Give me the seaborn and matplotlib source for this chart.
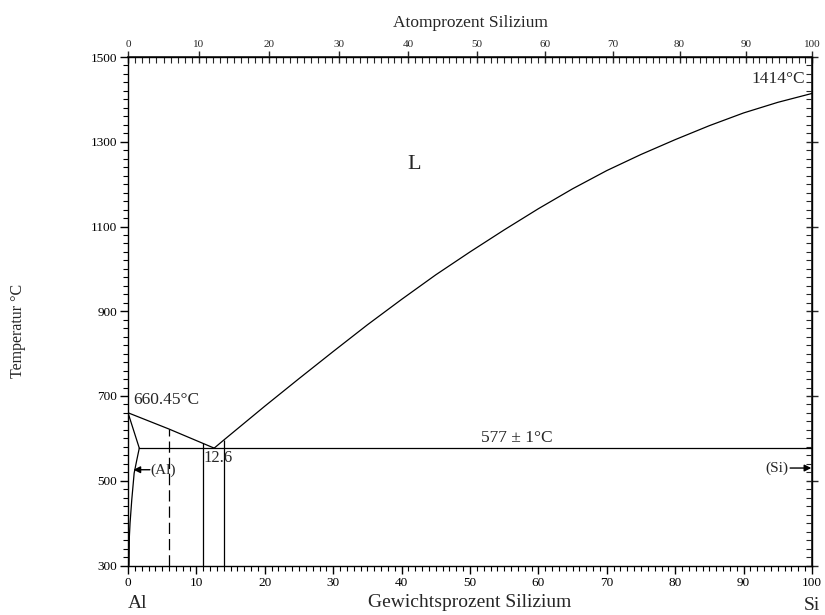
import matplotlib
matplotlib.use("Agg")
import matplotlib.pyplot as plt
from matplotlib.ticker import MultipleLocator, FixedLocator
import seaborn as sns
import numpy as np
import pandas as pd

# Al-Si phase diagram
liq_right_wt = [12.6, 14, 20, 25, 30, 35, 40, 45, 50, 55, 60, 65, 70, 75, 80, 85, 90, 95, 100]
liq_right_T = [577, 596, 676, 741, 805, 868, 928, 986, 1040, 1092, 1142, 1189, 1232, 1270, 1305, 1338, 1368, 1393, 1414]
liq_left_wt = [0, 6, 12.6]
liq_left_T = [660.45, 622, 577]
solidus_wt = [0, 1.65]
solidus_T = [660.45, 577]
solvus_wt = [1.65, 1.3, 0.9, 0.55, 0.3, 0.2, 0.15]
solvus_T = [577, 550, 518, 455, 400, 368, 300]
eutectic_wt = [1.65, 100]
eutectic_T = [577, 577]
alloy_wt = [6, 11, 14]
alloy_top = [622, 588, 596]
alloy_style = ["dashed", "solid", "solid"]
temp_ticks = [300, 500, 700, 900, 1100, 1300, 1500]

M_AL, M_SI = 26.9815, 28.0855


def wt_to_at(w):
    w = np.asarray(w, dtype=float)
    return 100 * (w / M_SI) / (w / M_SI + (100 - w) / M_AL)


def at_to_wt(a):
    a = np.asarray(a, dtype=float)
    return 100 * (a * M_SI) / (a * M_SI + (100 - a) * M_AL)


sns.set_theme(style="ticks")
plt.rcParams["font.family"] = ["Liberation Serif", "DejaVu Serif"]

fig = plt.figure(figsize=(8.25, 6.15), dpi=100)
ax = fig.add_axes([128 / 825, 1 - 565.5 / 615, 684 / 825, (565.5 - 57) / 615])

lw = 0.9
for xs, ys in [(liq_right_wt, liq_right_T), (liq_left_wt, liq_left_T),
               (solidus_wt, solidus_T), (solvus_wt, solvus_T), (eutectic_wt, eutectic_T)]:
    df = pd.DataFrame({"wt": xs, "T": ys})
    sns.lineplot(data=df, x="wt", y="T", ax=ax, color="black", lw=lw,
                 sort=False, estimator=None)

for w, top, ls in zip(alloy_wt, alloy_top, alloy_style):
    ax.vlines(w, 300, top, colors="black", lw=lw,
              linestyles=(0, (9, 4)) if ls == "dashed" else "solid")

ax.set_xlim(0, 100)
ax.set_ylim(300, 1500)

for s in ax.spines.values():
    s.set_linewidth(1.0)
    s.set_color("black")

# bottom / left ticks (outward)
ax.xaxis.set_major_locator(MultipleLocator(10))
ax.xaxis.set_minor_locator(MultipleLocator(1))
ax.yaxis.set_major_locator(FixedLocator(temp_ticks))
ax.yaxis.set_minor_locator(MultipleLocator(20))
ax.tick_params(which="major", direction="out", length=6, width=1, labelsize=9.5,
               colors="black", pad=2)
ax.tick_params(which="minor", direction="out", length=3.5, width=0.8, colors="black")
ax.tick_params(top=False, right=False)

# right axis: ticks pointing inward, no labels
secy = ax.secondary_yaxis("right")
secy.yaxis.set_major_locator(FixedLocator(temp_ticks))
secy.yaxis.set_minor_locator(MultipleLocator(20))
secy.tick_params(which="major", direction="inout", length=8, width=1, labelright=False)
secy.tick_params(which="minor", direction="in", length=4, width=0.8)

# top axis: atom percent
secx = ax.secondary_xaxis("top", functions=(wt_to_at, at_to_wt))
secx.xaxis.set_major_locator(MultipleLocator(10))
secx.xaxis.set_minor_locator(MultipleLocator(1))
secx.tick_params(which="major", direction="inout", length=8, width=1, labelsize=8, pad=2)
secx.tick_params(which="minor", direction="in", length=4, width=0.8)
secx.set_xlabel("Atomprozent Silizium", fontsize=12.5, labelpad=9)

ax.set_xlabel("Gewichtsprozent Silizium", fontsize=14, labelpad=4)
ax.set_ylabel("")

fig.text(18 / 825, 1 - 331 / 615, "Temperatur °C", rotation=90, fontsize=11.5,
         ha="center", va="center")
fig.text(128 / 825, 1 - 604 / 615, "Al", fontsize=14, ha="left", va="center")
fig.text(812 / 825, 1 - 605 / 615, "Si", fontsize=14, ha="center", va="center")

# annotations
ax.text(41.8, 1246, "L", fontsize=16, ha="center", va="center")
ax.text(99.0, 1430, "1414°C", fontsize=12.5, ha="right", va="bottom")
ax.text(0.8, 672, "660.45°C", fontsize=12.5, ha="left", va="bottom")
ax.text(56.9, 581, "577 ± 1°C", fontsize=12.5, ha="center", va="bottom")
ax.text(11.1, 572, "12.6", fontsize=12, ha="left", va="top")
ax.text(3.3, 525, "(Al)", fontsize=11, ha="left", va="center")
ax.text(96.6, 530, "(Si)", fontsize=11, ha="right", va="center")

arrow = dict(arrowstyle="-|>", color="black", lw=1, mutation_scale=10, shrinkA=0, shrinkB=0)
ax.annotate("", xy=(0.8, 526), xytext=(3.2, 526), arrowprops=arrow)
ax.annotate("", xy=(99.9, 530), xytext=(96.8, 530), arrowprops=arrow)

fig.savefig("out.png", dpi=100)
